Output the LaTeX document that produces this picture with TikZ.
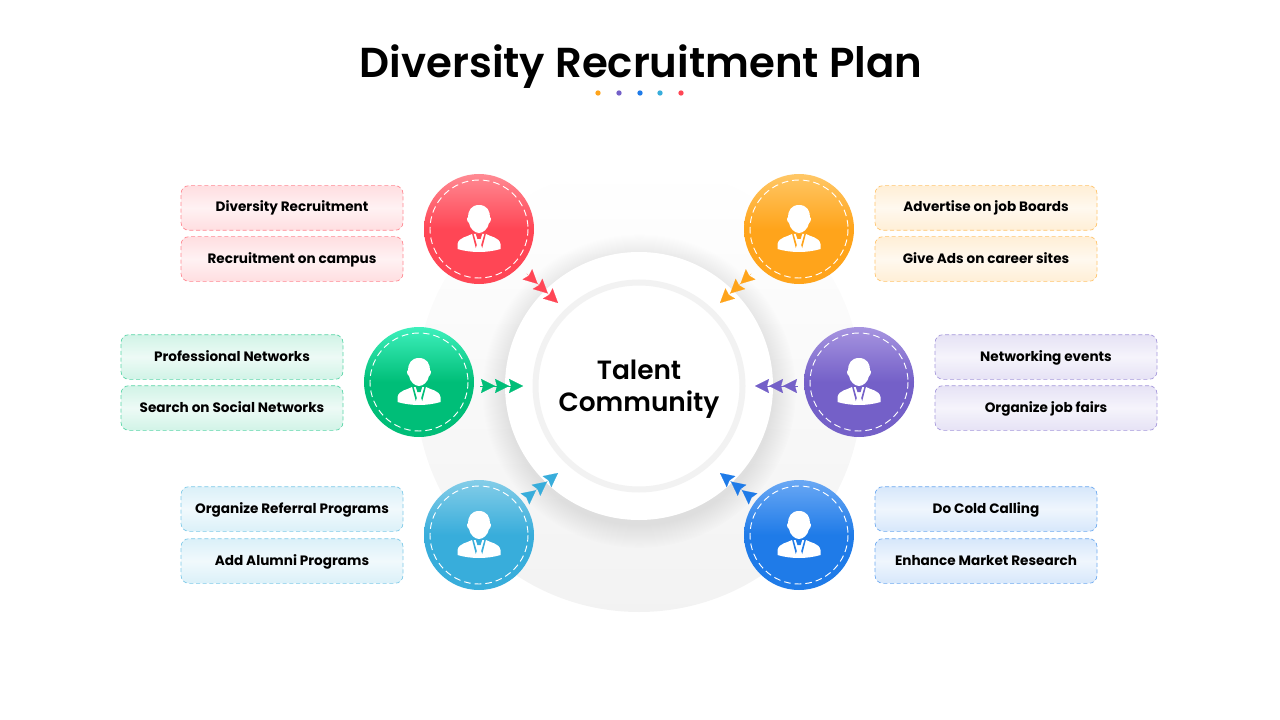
\documentclass[tikz,border=0pt]{standalone}
\usepackage{fontspec}
\setmainfont{Poppins}
\newfontfamily\semifont{Poppins SemiBold}
\newfontfamily\labelfont{Poppins Bold}
\usetikzlibrary{arrows.meta,positioning,fadings}

\definecolor{redC}{HTML}{FF4655}
\definecolor{redL}{HTML}{FF8A93}
\definecolor{orangeC}{HTML}{FFA41B}
\definecolor{orangeL}{HTML}{FFC766}
\definecolor{purpleC}{HTML}{7460C8}
\definecolor{purpleL}{HTML}{A795E0}
\definecolor{greenC}{HTML}{00BE78}
\definecolor{greenL}{HTML}{3EF0BC}
\definecolor{cyanC}{HTML}{38ADDB}
\definecolor{cyanL}{HTML}{84CDE8}
\definecolor{blueC}{HTML}{1F7BE8}
\definecolor{blueL}{HTML}{6AA8F4}

\tikzset{
  badge/.style 2 args={circle,minimum size=82.5pt,inner sep=0pt,top color=#2,bottom color=#1,middle color=#1},
  stitch/.style={draw=white,line width=0.7pt,dash pattern=on 5pt off 3pt},
  tag/.style={draw=#1!65!white,line width=0.5pt,dash pattern=on 3pt off 2pt,rounded corners=6pt,minimum width=166.5pt,minimum height=33.5pt,inner sep=0pt,
    top color=#1!18!white,bottom color=#1!18!white,middle color=#1!7!white,text height=8pt,text depth=2pt,
    font=\labelfont\fontsize{10.2pt}{13pt}\selectfont},
  tripleTip/.style={#1,line width=0.1pt,shorten <=49pt,
    -{Stealth[length=10.5pt,width=10.5pt,inset=1.5pt,sep=0pt]Stealth[length=10.5pt,width=10.5pt,inset=1.5pt,sep=0pt]Stealth[length=10.5pt,width=10.5pt,inset=1.5pt]}},
  dot/.style={circle,fill=#1,minimum size=4pt,inner sep=0pt},
  softShadow/.style={black,opacity=0.09,path fading=circle with fuzzy edge 15 percent},
  pics/personIcon/.style={code={
    \fill[white] (0,-24) .. controls (8,-24) and (11,-18) .. (11,-12) .. controls (12.5,-11) and (12,-7) .. (10,-6)
       .. controls (9,0) and (4,4) .. (0,4) .. controls (-4,4) and (-9,0) .. (-10,-6)
       .. controls (-12,-7) and (-12.5,-11) .. (-11,-12) .. controls (-11,-18) and (-8,-24) .. (0,-24) -- cycle;
    \fill[white] (-7,5) -- (7,5) .. controls (12,8) and (20,8) .. (21.5,15) -- (21.5,20)
       .. controls (8,24) and (-8,24) .. (-21.5,20) -- (-21.5,15) .. controls (-20,8) and (-12,8) .. (-7,5) -- cycle;
    \fill[#1] (-7,4.5) -- (-5.5,4.5) -- (-2.2,16) -- (-3.2,19) -- cycle;
    \fill[#1] (7,4.5) -- (5.5,4.5) -- (2.2,16) -- (3.2,19) -- cycle;
    \fill[#1] (-3.2,5) -- (3.2,5) -- (1.6,10) -- (-1.6,10) -- cycle;
  }}
}

\begin{document}
\begin{tikzpicture}[x=0.75pt,y=-0.75pt]

\useasboundingbox (0,0) rectangle (1280,720);

\node[font=\semifont\fontsize{31.4pt}{40pt}\selectfont] (title) at (641,67) {Diversity Recruitment Plan};

\node[dot=orangeC] (d1) at (598,93) {};
\node[dot=purpleC] (d2) at (619,93) {};
\node[dot=blueC] (d3) at (640,93) {};
\node[dot=cyanC] (d4) at (660,93) {};
\node[dot=redC] (d5) at (681,93) {};

% grey backdrop and centre
\shade[top color=white,middle color=black!4,bottom color=black!5] (639,389) circle (223);

\fill[softShadow] (639,391) circle (157);
\node[circle,fill=white,minimum size=201pt,inner sep=0pt] (hub) at (639,386) {};
\draw[black!5,line width=4.5pt] (hub.center) circle (103.5);
\node[align=center,font=\semifont\fontsize{19.8pt}{24pt}\selectfont] (hubtext) at (639,389) {Talent\\Community};

% badges
\node[badge={redC}{redL}] (redB) at (479,229) {};
\node[badge={orangeC}{orangeL}] (orangeB) at (799,229) {};
\node[badge={greenC}{greenL}] (greenB) at (419,382) {};
\node[badge={purpleC}{purpleL}] (purpleB) at (859,382) {};
\node[badge={cyanC}{cyanL}] (cyanB) at (479,535) {};
\node[badge={blueC}{blueL}] (blueB) at (799,535) {};

\draw[stitch] (redB.center) circle (49);
\draw[stitch] (orangeB.center) circle (49);
\draw[stitch] (greenB.center) circle (49);
\draw[stitch] (purpleB.center) circle (49);
\draw[stitch] (cyanB.center) circle (49);
\draw[stitch] (blueB.center) circle (49);

\pic at (redB.center) {personIcon=redC};
\pic at (orangeB.center) {personIcon=orangeC};
\pic at (greenB.center) {personIcon=greenC};
\pic at (purpleB.center) {personIcon=purpleC};
\pic at (cyanB.center) {personIcon=cyanC};
\pic at (blueB.center) {personIcon=blueC};

% arrows
\coordinate (redEnd) at (558,303);
\coordinate (orangeEnd) at (720,303);
\coordinate (greenEnd) at (523,386);
\coordinate (purpleEnd) at (755,386);
\coordinate (cyanEnd) at (558,473);
\coordinate (blueEnd) at (720,473);

\draw[tripleTip=redC] (redB.center) -- (redEnd);
\draw[tripleTip=orangeC] (orangeB.center) -- (orangeEnd);
\draw[tripleTip=greenC,shorten <=46pt] (greenB.center |- greenEnd) -- (greenEnd);
\draw[tripleTip=purpleC,shorten <=46pt] (purpleB.center |- purpleEnd) -- (purpleEnd);
\draw[tripleTip=cyanC] (cyanB.center) -- (cyanEnd);
\draw[tripleTip=blueC] (blueB.center) -- (blueEnd);

% labels
\node[tag=redC] (r1) at (292,208) {Diversity Recruitment};
\node[tag=redC] (r2) at (292,259) {Recruitment on campus};
\node[tag=greenC] (g1) at (232,357) {Professional Networks};
\node[tag=greenC] (g2) at (232,408) {Search on Social Networks};
\node[tag=cyanC] (c1) at (292,509) {Organize Referral Programs};
\node[tag=cyanC] (c2) at (292,561) {Add Alumni Programs};
\node[tag=orangeC] (o1) at (986,208) {Advertise on job Boards};
\node[tag=orangeC] (o2) at (986,259) {Give Ads on career sites};
\node[tag=purpleC] (p1) at (1046,357) {Networking events};
\node[tag=purpleC] (p2) at (1046,408) {Organize job fairs};
\node[tag=blueC] (b1) at (986,509) {Do Cold Calling};
\node[tag=blueC] (b2) at (986,561) {Enhance Market Research};

\end{tikzpicture}
\end{document}
